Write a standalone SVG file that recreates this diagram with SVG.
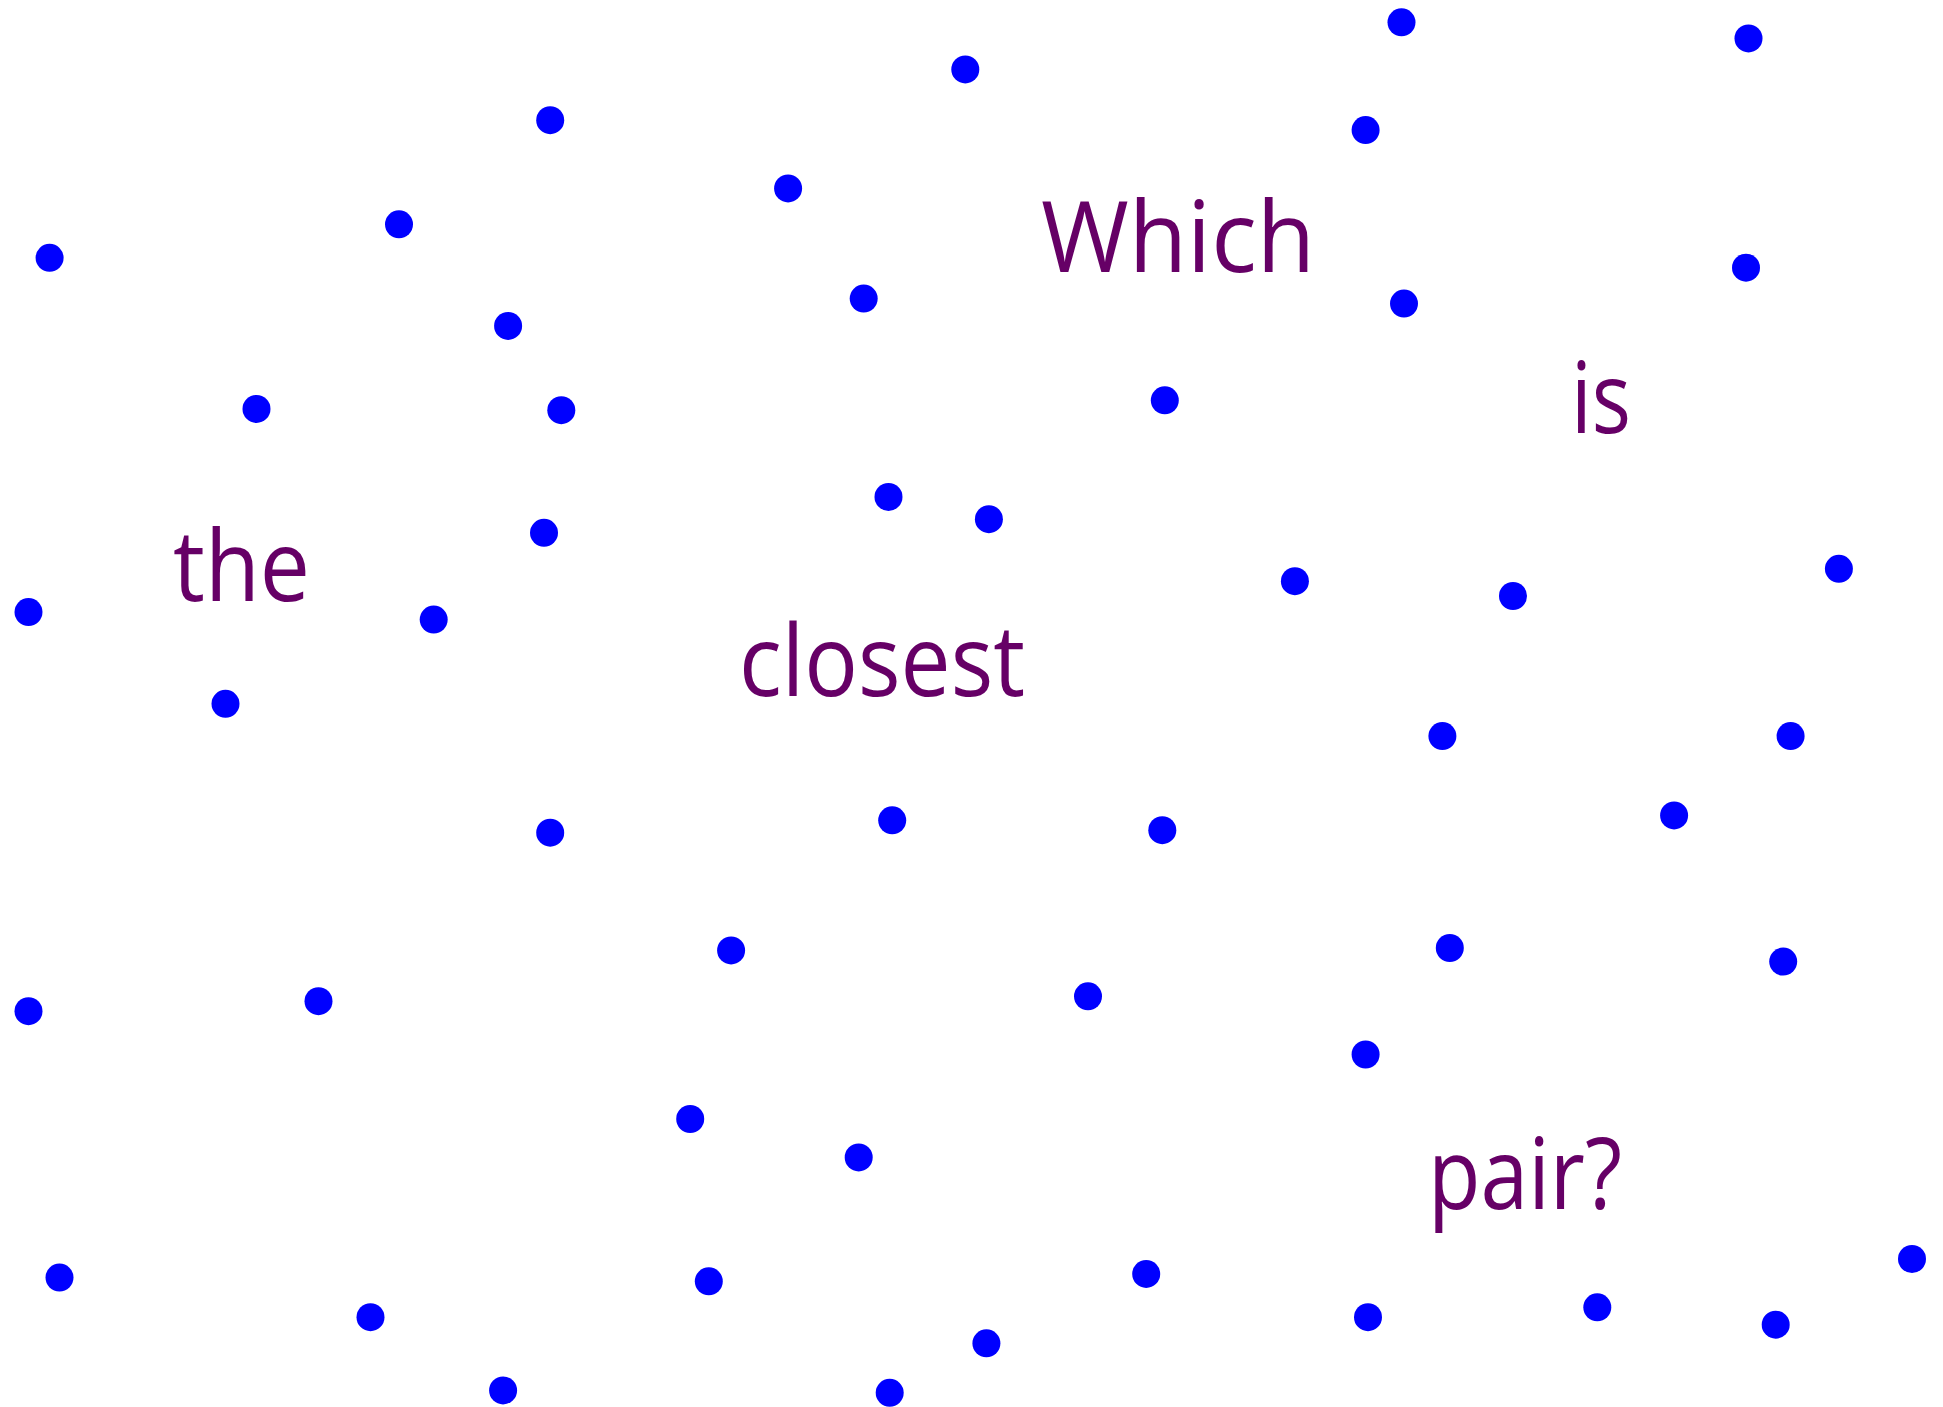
<svg xmlns="http://www.w3.org/2000/svg" width="1943" height="1407" viewBox="0 0 1943 1407">
<style>
.d{fill:#0000ff}
.t{fill:#660066;font-family:"Open Sans","Noto Sans",sans-serif;font-size:98px}
</style>
<rect width="1943" height="1407" fill="#ffffff"/>
<g id="dots">
<circle class="d" cx="1401.5" cy="22.3" r="14"/>
<circle class="d" cx="1748.5" cy="38.4" r="14"/>
<circle class="d" cx="965.3" cy="69.4" r="14"/>
<circle class="d" cx="550.2" cy="120.2" r="14"/>
<circle class="d" cx="1365.6" cy="130.1" r="14"/>
<circle class="d" cx="788.1" cy="188.4" r="14"/>
<circle class="d" cx="399" cy="224.3" r="14"/>
<circle class="d" cx="49.6" cy="257.8" r="14"/>
<circle class="d" cx="1746" cy="267.7" r="14"/>
<circle class="d" cx="863.7" cy="298.6" r="14"/>
<circle class="d" cx="1404" cy="303.6" r="14"/>
<circle class="d" cx="508.1" cy="325.9" r="14"/>
<circle class="d" cx="1164.8" cy="400.3" r="14"/>
<circle class="d" cx="256.5" cy="408.9" r="14"/>
<circle class="d" cx="561.3" cy="410.2" r="14"/>
<circle class="d" cx="888.5" cy="496.9" r="14"/>
<circle class="d" cx="988.9" cy="519.2" r="14"/>
<circle class="d" cx="544" cy="532.8" r="14"/>
<circle class="d" cx="1838.9" cy="568.8" r="14"/>
<circle class="d" cx="1294.9" cy="581.2" r="14"/>
<circle class="d" cx="1513" cy="596" r="14"/>
<circle class="d" cx="28.5" cy="612.1" r="14"/>
<circle class="d" cx="433.7" cy="619.6" r="14"/>
<circle class="d" cx="225.5" cy="703.8" r="14"/>
<circle class="d" cx="1442.4" cy="736.1" r="14"/>
<circle class="d" cx="1790.6" cy="736.1" r="14"/>
<circle class="d" cx="1674.1" cy="815.4" r="14"/>
<circle class="d" cx="892.2" cy="820.3" r="14"/>
<circle class="d" cx="550.2" cy="832.7" r="14"/>
<circle class="d" cx="1162.3" cy="830.2" r="14"/>
<circle class="d" cx="731.1" cy="950.4" r="14"/>
<circle class="d" cx="1449.8" cy="948" r="14"/>
<circle class="d" cx="1783.2" cy="961.6" r="14"/>
<circle class="d" cx="1088" cy="996.3" r="14"/>
<circle class="d" cx="28.5" cy="1011.2" r="14"/>
<circle class="d" cx="318.5" cy="1001.2" r="14"/>
<circle class="d" cx="1365.6" cy="1054.5" r="14"/>
<circle class="d" cx="690.2" cy="1119" r="14"/>
<circle class="d" cx="858.7" cy="1157.4" r="14"/>
<circle class="d" cx="1912" cy="1259" r="14"/>
<circle class="d" cx="1146.2" cy="1273.9" r="14"/>
<circle class="d" cx="59.5" cy="1277.6" r="14"/>
<circle class="d" cx="708.8" cy="1281.3" r="14"/>
<circle class="d" cx="370.5" cy="1317.2" r="14"/>
<circle class="d" cx="1368" cy="1317.2" r="14"/>
<circle class="d" cx="1597.3" cy="1307.3" r="14"/>
<circle class="d" cx="1775.7" cy="1324.7" r="14"/>
<circle class="d" cx="986.4" cy="1343.3" r="14"/>
<circle class="d" cx="503.1" cy="1390.4" r="14"/>
<circle class="d" cx="889.7" cy="1392.8" r="14"/>
</g>
<g id="words">
<text class="t" x="1041" y="272" textLength="274" lengthAdjust="spacingAndGlyphs">Which</text>
<text class="t" x="1571" y="433" textLength="60" lengthAdjust="spacingAndGlyphs">is</text>
<text class="t" x="173" y="601" textLength="137" lengthAdjust="spacingAndGlyphs">the</text>
<text class="t" x="739" y="696" textLength="286" lengthAdjust="spacingAndGlyphs">closest</text>
<text class="t" x="1428" y="1209" textLength="194" lengthAdjust="spacingAndGlyphs">pair?</text>
</g>
</svg>
